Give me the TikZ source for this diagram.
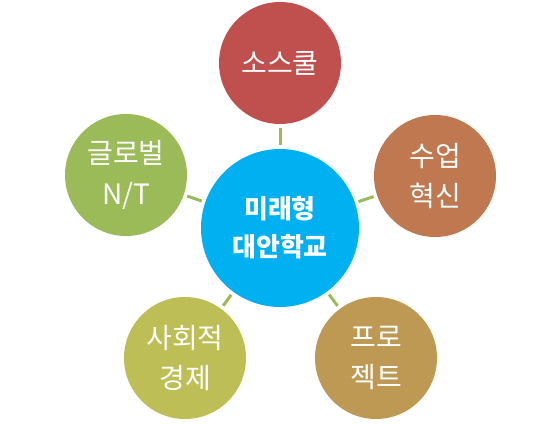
\documentclass[tikz,border=0pt]{standalone}
\usepackage{fontspec}
\setmainfont{Noto Sans CJK KR}
\definecolor{cblue}{HTML}{00B0F0}
\definecolor{cred}{HTML}{C0504D}
\definecolor{corange}{RGB}{191,120,80}
\definecolor{cgold}{RGB}{190,153,84}
\definecolor{colive}{RGB}{190,190,86}
\definecolor{cgreen}{HTML}{9BBB59}
\begin{document}
\begin{tikzpicture}[x=0.75pt,y=-0.75pt,
  outer/.style={circle,inner sep=0pt,minimum size=91.5pt,text=white,align=center,font=\fontsize{21}{30.5}\selectfont},
  hub/.style={circle,inner sep=0pt,minimum size=118.5pt,fill=cblue,text=white,align=center,font=\fontsize{19.5}{28.5}\selectfont\bfseries},
  link/.style={draw=cgreen,line width=2.25pt,shorten <=2.6pt,shorten >=2.6pt}]
\useasboundingbox (0,0) rectangle (560,424);
\node[hub] (c) at (280,228) {미래형\\대안학교};
\node[outer,fill=cred] (t) at (280,63) {소스쿨};
\node[outer,fill=corange] (r) at (435,176) {수업\\혁신};
\node[outer,fill=cgold] (br) at (376,358) {프로\\젝트};
\node[outer,fill=colive] (bl) at (185,358) {사회적\\경제};
\node[outer,fill=cgreen] (l) at (126,175) {글로벌\\N/T};
\draw[link] (t) -- (c);
\draw[link] (r) -- (c);
\draw[link] (br) -- (c);
\draw[link] (bl) -- (c);
\draw[link] (l) -- (c);
\end{tikzpicture}
\end{document}
